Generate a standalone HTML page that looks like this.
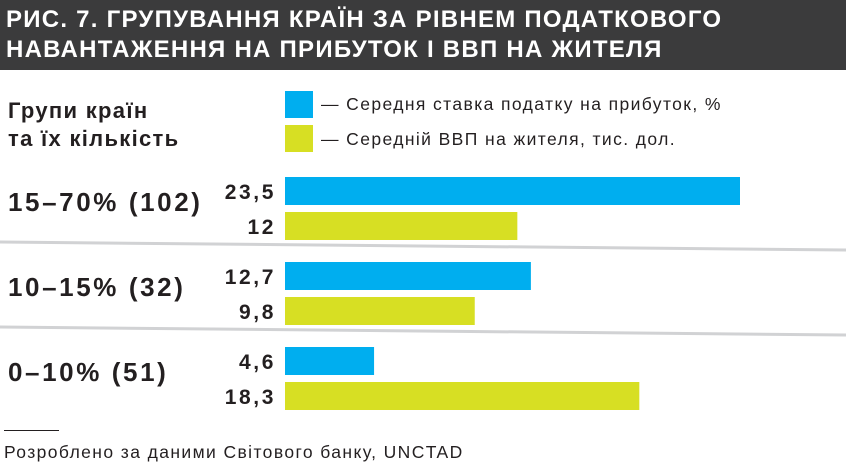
<!DOCTYPE html>
<html><head><meta charset="utf-8"><style>
body{margin:0;width:846px;height:469px;background:#fff;overflow:hidden;font-family:"Liberation Sans",sans-serif;position:relative}
#title{position:absolute;left:0;top:0;width:846px;height:70px;background:#3b3b3c;color:#fff;font-weight:bold;font-size:24px;line-height:30px;padding:5px 0 0 6px;box-sizing:border-box;letter-spacing:1.25px;white-space:nowrap}
.t{position:absolute;color:#231f20;white-space:nowrap}
</style></head><body>
<div id="title">РИС. 7. ГРУПУВАННЯ КРАЇН ЗА РІВНЕМ ПОДАТКОВОГО<br>НАВАНТАЖЕННЯ НА ПРИБУТОК І ВВП НА ЖИТЕЛЯ</div>
<div class="t" style="left:8px;top:97px;font-size:22px;font-weight:bold;line-height:28px;letter-spacing:1.3px">Групи країн<br>та їх кількість</div>
<div style="position:absolute;left:285px;top:91px;width:28px;height:27px;background:#00aeef"></div>
<div class="t" style="left:321px;top:94px;font-size:17.5px;letter-spacing:1.4px">— Середня ставка податку на прибуток, %</div>
<div style="position:absolute;left:285px;top:125px;width:28px;height:27px;background:#d7df23"></div>
<div class="t" style="left:321px;top:129px;font-size:17.5px;letter-spacing:1.4px">— Середній ВВП на жителя, тис. дол.</div>
<svg id="chart" width="846" height="469" style="position:absolute;left:0;top:0"></svg>
<div style="position:absolute;left:4px;top:430px;width:55px;height:1px;background:#231f20"></div>
<div class="t" style="left:4px;top:442px;font-size:17.5px;letter-spacing:1.4px">Розроблено за даними Світового банку, UNCTAD</div>
<script>
const groups=["15–70% (102)","10–15% (32)","0–10% (51)"];
const taxRate=[23.5,12.7,4.6];
const gdpPerCapita=[12,9.8,18.3];
const taxLabels=["23,5","12,7","4,6"];
const gdpLabels=["12","9,8","18,3"];
const svg=document.getElementById('chart');
const NS="http://www.w3.org/2000/svg";
const x0=285, pxPerUnit=455/23.5;
function xs(v){return v*pxPerUnit;}
function groupTop(i){return 177+i*85;}
function mk(tag,attrs){const e=document.createElementNS(NS,tag);for(const k in attrs)e.setAttribute(k,attrs[k]);svg.appendChild(e);return e;}
for(let i=0;i<2;i++){
  const y=242+i*85;
  const l=mk('line',{x1:0,y1:y,x2:846,y2:y+8,stroke:'#d1d2d4','stroke-width':3});
  
  
}
groups.forEach((g,i)=>{
  const top=groupTop(i);
  const gl=mk('text',{x:8,y:top+34,'font-size':26,'font-weight':'bold',fill:'#231f20','font-family':'Liberation Sans','letter-spacing':2.6});
  gl.textContent=g;
  
  
  const b1=mk('rect',{x:x0,y:top,width:xs(taxRate[i]),height:28,fill:'#00aeef'});
  
  
  const b2=mk('rect',{x:x0,y:top+35,width:xs(gdpPerCapita[i]),height:28,fill:'#d7df23'});
  
  
  const v1=mk('text',{x:276,y:top+22,'font-size':21,'font-weight':'bold','text-anchor':'end',fill:'#231f20','font-family':'Liberation Sans','letter-spacing':2.6});
  v1.textContent=taxLabels[i];
  
  
  const v2=mk('text',{x:276,y:top+57,'font-size':21,'font-weight':'bold','text-anchor':'end',fill:'#231f20','font-family':'Liberation Sans','letter-spacing':2.6});
  v2.textContent=gdpLabels[i];
  
  
});
</script>
</body></html>
